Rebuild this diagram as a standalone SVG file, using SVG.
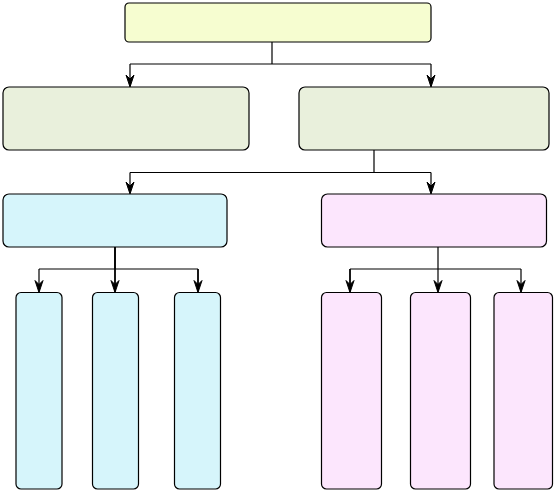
<svg xmlns="http://www.w3.org/2000/svg" width="554" height="491" viewBox="0 0 554 491">
<style>
.n{stroke:#000;stroke-width:1.2}
.top{fill:#f6fdd0}
.l1{fill:#e9f0dc}
.bl{fill:#d6f5fb}
.pk{fill:#fce6fd}
.c{fill:none;stroke:#000;stroke-width:1.2}
.t{stroke-width:1.8}
.h{fill:#000;stroke:#000;stroke-width:1}
</style>
<defs>
<path id="head" d="M-4,-12 L0,0 L4,-12 L0,-8 Z"/>
</defs>
<rect width="554" height="491" fill="#fff"/>
<g id="connectors">
<path class="c" d="M272,42 V64 M130,64 H431 M130,64 V86 M431,64 V86"/>
<path class="c" d="M374,150 V172.5 M130,172.5 H431 M130,172.5 V193 M431,172.5 V193"/>
<path class="c" d="M115,247 V269 M39,269 H198 M39,269 V291.5"/>
<path class="c t" d="M115,247 V291.5 M198,269 V291.5"/>
<path class="c" d="M438,247 V269 M350,269 H521 M438,269 V291.5 M521,269 V291.5"/>
<path class="c t" d="M350,269 V291.5"/>
<use href="#head" class="h" x="130" y="87"/>
<use href="#head" class="h" x="431" y="87"/>
<use href="#head" class="h" x="130" y="194"/>
<use href="#head" class="h" x="431" y="194"/>
<use href="#head" class="h" x="39" y="292.5"/>
<use href="#head" class="h" x="115" y="292.5"/>
<use href="#head" class="h" x="198" y="292.5"/>
<use href="#head" class="h" x="350" y="292.5"/>
<use href="#head" class="h" x="438" y="292.5"/>
<use href="#head" class="h" x="521" y="292.5"/>
</g>
<g id="root"><rect class="n top" x="125" y="3" width="306" height="39" rx="4"/></g>
<g id="left1"><rect class="n l1" x="3" y="87" width="246" height="63" rx="6"/></g>
<g id="right1"><rect class="n l1" x="299" y="87" width="250" height="63" rx="6"/></g>
<g id="blue"><rect class="n bl" x="3" y="194" width="224" height="53" rx="6"/></g>
<g id="pink"><rect class="n pk" x="321.5" y="194" width="225" height="53" rx="6"/></g>
<g id="b1"><rect class="n bl" x="16" y="292.5" width="46" height="196.5" rx="5"/></g>
<g id="b2"><rect class="n bl" x="92.5" y="292.5" width="46" height="196.5" rx="5"/></g>
<g id="b3"><rect class="n bl" x="174.5" y="292.5" width="46" height="196.5" rx="5"/></g>
<g id="p1"><rect class="n pk" x="321.5" y="292.5" width="60" height="196.5" rx="5"/></g>
<g id="p2"><rect class="n pk" x="410.5" y="292.5" width="60" height="196.5" rx="5"/></g>
<g id="p3"><rect class="n pk" x="494" y="292.5" width="58.5" height="196.5" rx="5"/></g>
</svg>
